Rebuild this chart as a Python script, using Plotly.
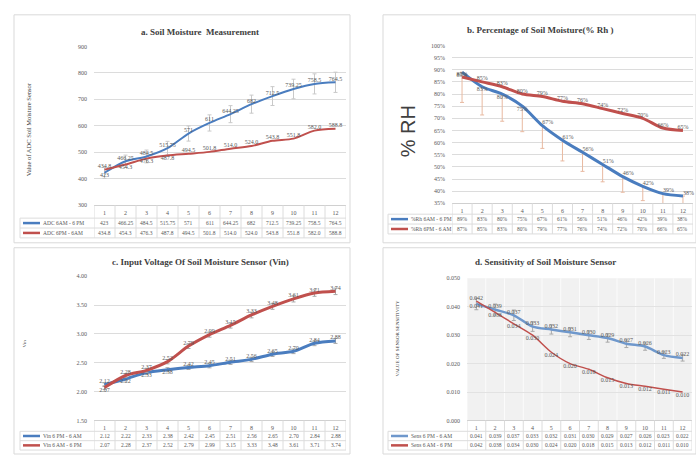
import plotly.graph_objects as go

# ---------------- data ----------------
cats = list(range(1, 13))

adc_day = [423, 466.25, 484.5, 515.75, 571, 611, 644.25, 682, 712.5, 739.25, 758.5, 764.5]
adc_night = [434.8, 454.3, 476.3, 487.8, 494.5, 501.8, 514.0, 524.0, 543.8, 551.8, 582.0, 588.8]

rh_day = [89, 83, 80, 75, 67, 61, 56, 51, 46, 42, 39, 38]
rh_night = [87, 85, 83, 80, 79, 77, 76, 74, 72, 70, 66, 65]

vin_night = [2.12, 2.22, 2.33, 2.38, 2.42, 2.45, 2.51, 2.56, 2.65, 2.70, 2.84, 2.88]
vin_day = [2.07, 2.28, 2.37, 2.52, 2.79, 2.99, 3.15, 3.33, 3.48, 3.61, 3.71, 3.74]

sens_night = [0.041, 0.039, 0.037, 0.033, 0.032, 0.031, 0.030, 0.029, 0.027, 0.026, 0.023, 0.022]
sens_day = [0.042, 0.038, 0.034, 0.030, 0.024, 0.020, 0.018, 0.015, 0.013, 0.012, 0.011, 0.010]

BLUE = "#4a7dbf"
RED = "#c0504d"
GRID = "#dcdcdc"
TXT = "#595959"
SERIF = "Liberation Serif"

W, H = 696, 457


def px(x):
    return x / W


def py(y):
    return 1 - y / H


fig = go.Figure()

panels = [
    dict(n="", title="a. Soil Moisture  Measurement", title_xy=(200, 29),
         box=(14, 12, 350, 243), xdom=(94, 346), ydom=(44, 205),
         rows=(205, 218, 228, 238), leg_x=20,
         yr=(300, 900), dtick=100, tfmt="d",
         ytitle="Value of ADC Soil Moisture Sensor", ytitle_xy=(28, 128), ytitle_size=6.5,
         series=[("ADC 6AM - 6 PM", adc_day, BLUE, 2, lambda v: f"{v:g}"),
                 ("ADC 6PM - 6AM", adc_night, RED, 2, lambda v: f"{v:.1f}")]),
    dict(n="2", title="b. Percentage of Soil Moisture(% Rh )", title_xy=(540, 27),
         box=(383, 12, 696, 243), xdom=(452, 693), ydom=(43, 203),
         rows=(203, 214, 224, 234), leg_x=388,
         yr=(35, 100), dtick=5, tfmt="pct",
         ytitle="% RH", ytitle_xy=(408, 130), ytitle_size=20,
         series=[("%Rh 6AM - 6 PM", rh_day, BLUE, 3, lambda v: f"{v}%"),
                 ("%Rh 6PM - 6 AM", rh_night, RED, 3, lambda v: f"{v}%")]),
    dict(n="3", title="c. Input Voltage Of Soil Moisture Sensor (Vin)", title_xy=(200, 262),
         box=(14, 248, 350, 457), xdom=(94, 346), ydom=(277, 423),
         rows=(423, 434, 443.5, 453), leg_x=20,
         yr=(1.5, 4.0), dtick=0.5, tfmt=".2f",
         ytitle="Vin", ytitle_xy=(24, 345), ytitle_size=5,
         series=[("Vin 6 PM - 6 AM", vin_night, BLUE, 3, lambda v: f"{v:.2f}"),
                 ("Vin 6 AM - 6 PM", vin_day, RED, 3, lambda v: f"{v:.2f}")]),
    dict(n="4", title="d. Sensitivity of Soil Moisture Sensor", title_xy=(545, 262),
         box=(383, 248, 696, 457), xdom=(467, 692), ydom=(279, 423),
         rows=(423, 434, 443.5, 453), leg_x=388,
         yr=(0.0, 0.05), dtick=0.01, tfmt=".3f",
         ytitle="VALUE OF SENSOR SENSITIVITY", ytitle_xy=(398, 340), ytitle_size=5,
         series=[("Sens 6 PM - 6 AM", sens_night, "#6f98cc", 2.5, lambda v: f"{v:.3f}"),
                 ("Sens 6 AM - 6 PM", sens_day, RED, 1.5, lambda v: f"{v:.3f}")]),
]

# label placement and error bars per panel/series
text_pos = {
    ("", 0): ["bottom center"] + ["top center"] * 11,
    ("", 1): ["top center"] + ["bottom center"] * 3 + ["top center"] * 8,
    ("2", 0): ["bottom center"] * 4 + ["top right"] * 8, ("2", 1): "top center",
    ("3", 0): ["top center"] + ["bottom center"] * 3 + ["top center"] * 8,
    ("3", 1): ["bottom center"] + ["top center"] * 11,
    ("4", 0): ["bottom center"] + ["top center"] * 11,
    ("4", 1): ["top center"] + ["bottom center"] * 11,
}
err = {
    ("", 0): dict(type="percent", value=5, color="#c9c9c9", thickness=1, width=2),
    ("2", 0): dict(type="percent", symmetric=False, value=0, valueminus=14,
                   color="#e8b9a0", thickness=1, width=2),
    ("3", 0): dict(type="percent", value=1.5, color="#a8a8a8", thickness=1, width=2),
    ("3", 1): dict(type="percent", value=1.5, color="#a8a8a8", thickness=1, width=2),
    ("4", 0): dict(type="percent", value=5, color="#a8a8a8", thickness=1, width=2),
}

shapes = []
annotations = []

for p in panels:
    n = p["n"]
    xa, ya = "x" + n, "y" + n
    xkey, ykey = "xaxis" + n, "yaxis" + n

    # panel frame
    bx0, by0, bx1, by1 = p["box"]
    shapes.append(dict(type="rect", xref="paper", yref="paper",
                       x0=px(bx0), x1=px(bx1), y0=py(by1), y1=py(by0),
                       line=dict(color="#d9d9d9", width=1), layer="below"))

    if n == "4":
        shapes.append(dict(type="rect", xref="x4 domain", yref="y4 domain",
                           x0=0, x1=1, y0=0, y1=1, fillcolor="#f1f1f1",
                           line=dict(width=0), layer="below"))
        for b in range(13):
            shapes.append(dict(type="line", xref="x4", yref="paper",
                               x0=b + 0.5, x1=b + 0.5, y0=py(p["ydom"][1]), y1=py(p["ydom"][0]),
                               line=dict(color="#fbfbfb", width=1), layer="below"))

    for si, (name, vals, col, lw, fmt) in enumerate(p["series"]):
        tr = dict(x=cats, y=vals, mode="lines+text", name=name,
                  line=dict(color=col, width=lw, shape="spline", smoothing=0.8),
                  text=[fmt(v) for v in vals],
                  textposition=text_pos[(n, si)],
                  textfont=dict(family=SERIF, size=6, color=TXT),
                  xaxis=xa, yaxis=ya, showlegend=False, cliponaxis=False)
        if (n, si) in err:
            tr["error_y"] = err[(n, si)]
        fig.add_trace(go.Scatter(**tr))

    # axes
    if p["tfmt"] == "pct":
        tv = list(range(35, 101, 5))
        yax = dict(tickvals=tv, ticktext=[f"{v}%" for v in tv])
    elif p["tfmt"] == "d":
        yax = dict(dtick=p["dtick"], tickformat="d")
    else:
        yax = dict(dtick=p["dtick"], tickformat=p["tfmt"])
    yax.update(domain=[py(p["ydom"][1]), py(p["ydom"][0])], range=list(p["yr"]),
               anchor=xa, showgrid=True, gridcolor=GRID if n != "4" else "#e2e2e2",
               gridwidth=1, zeroline=False, showline=False, ticks="",
               tickfont=dict(family=SERIF, size=6, color=TXT), ticklabelstandoff=6)
    fig.update_layout(**{ykey: yax})
    fig.update_layout(**{xkey: dict(domain=[px(p["xdom"][0]), px(p["xdom"][1])],
                                    range=[0.5, 12.5], anchor=ya, tickvals=cats,
                                    showgrid=False, zeroline=False, ticks="",
                                    showline=True, linecolor="#d0d0d0",
                                    tickfont=dict(family=SERIF, size=6, color=TXT),
                                    ticklabelstandoff=1)})

    # data table: grid lines
    r0, r1, r2, r3 = p["rows"]
    for b in range(13):
        shapes.append(dict(type="line", xref=xa, yref="paper",
                           x0=b + 0.5, x1=b + 0.5, y0=py(r3), y1=py(r0),
                           line=dict(color=GRID, width=1)))
    for r in (r1, r2, r3):
        shapes.append(dict(type="line", xref="paper", yref="paper",
                           x0=px(p["leg_x"]), x1=px(p["xdom"][1]), y0=py(r), y1=py(r),
                           line=dict(color=GRID, width=1)))
    shapes.append(dict(type="line", xref="paper", yref="paper",
                       x0=px(p["leg_x"]), x1=px(p["leg_x"]), y0=py(r3), y1=py(r1),
                       line=dict(color=GRID, width=1)))

    # data table: legend keys and values
    for si, (name, vals, col, lw, fmt) in enumerate(p["series"]):
        yc = ((r1, r2), (r2, r3))[si]
        ym = (yc[0] + yc[1]) / 2
        shapes.append(dict(type="line", xref="paper", yref="paper",
                           x0=px(p["leg_x"] + 3), x1=px(p["leg_x"] + 20), y0=py(ym), y1=py(ym),
                           line=dict(color=col, width=2.5)))
        annotations.append(dict(xref="paper", yref="paper", x=px(p["leg_x"] + 21), y=py(ym),
                                text=name, showarrow=False, xanchor="left", yanchor="middle",
                                font=dict(family=SERIF, size=5.5, color=TXT)))
        for c, v in zip(cats, vals):
            annotations.append(dict(xref=xa, yref="paper", x=c, y=py(ym), text=fmt(v),
                                    showarrow=False, xanchor="center", yanchor="middle",
                                    font=dict(family=SERIF, size=5.5, color=TXT)))

    # titles
    tx, ty = p["title_xy"]
    annotations.append(dict(xref="paper", yref="paper", x=px(tx), y=py(ty), text=f"<b>{p['title']}</b>",
                            showarrow=False, xanchor="center", yanchor="middle",
                            font=dict(family=SERIF, size=9, color="#404040")))
    ax_, ay_ = p["ytitle_xy"]
    annotations.append(dict(xref="paper", yref="paper", x=px(ax_), y=py(ay_), text=p["ytitle"],
                            showarrow=False, textangle=-90, xanchor="center", yanchor="middle",
                            font=dict(family="Liberation Sans" if n == "2" else SERIF,
                                      size=p["ytitle_size"], color="#404040")))

fig.update_layout(width=W, height=H, margin=dict(l=0, r=0, t=0, b=0),
                  paper_bgcolor="white", plot_bgcolor="white",
                  shapes=shapes, annotations=annotations, showlegend=False)

fig.write_html("out.html")
